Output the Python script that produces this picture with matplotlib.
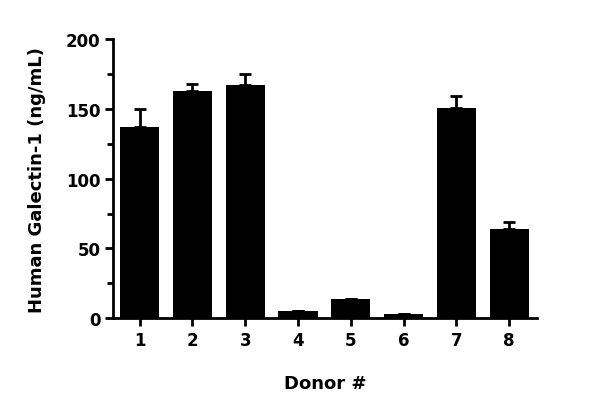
import numpy as np
import matplotlib.pyplot as plt
from matplotlib.ticker import MultipleLocator

donors = ["1", "2", "3", "4", "5", "6", "7", "8"]
means = [137, 163, 167, 5, 14, 3, 151, 64]
errors = [13, 5, 8, 0, 0, 0, 8, 5]

fig = plt.figure(figsize=(6, 4.14), dpi=100)
ax = fig.add_axes([0.188, 0.229, 0.707, 0.674])

x = np.arange(1, len(donors) + 1)
ax.bar(x, means, width=0.74, color="black")
ax.errorbar(x, means, yerr=[np.zeros(len(errors)), errors], fmt="none",
            ecolor="black", elinewidth=2, capsize=4.5, capthick=2)

ax.set_xlim(0.49, 8.53)
ax.set_ylim(0, 200)
ax.set_xticks(x)
ax.set_xticklabels(donors)
ax.yaxis.set_major_locator(MultipleLocator(50))
ax.yaxis.set_minor_locator(MultipleLocator(25))

for s in ["top", "right"]:
    ax.spines[s].set_visible(False)
for s in ["left", "bottom"]:
    ax.spines[s].set_linewidth(2)

ax.tick_params(axis="both", which="major", width=2, length=6, labelsize=12, pad=3)
ax.tick_params(axis="y", which="minor", width=2, length=4)
for lab in ax.get_xticklabels() + ax.get_yticklabels():
    lab.set_fontweight("bold")

ax.set_xlabel("Donor #", fontsize=13, fontweight="bold", labelpad=18)
ax.set_ylabel("Human Galectin-1 (ng/mL)", fontsize=13, fontweight="bold", labelpad=14)

plt.savefig("out.png", dpi=100)
